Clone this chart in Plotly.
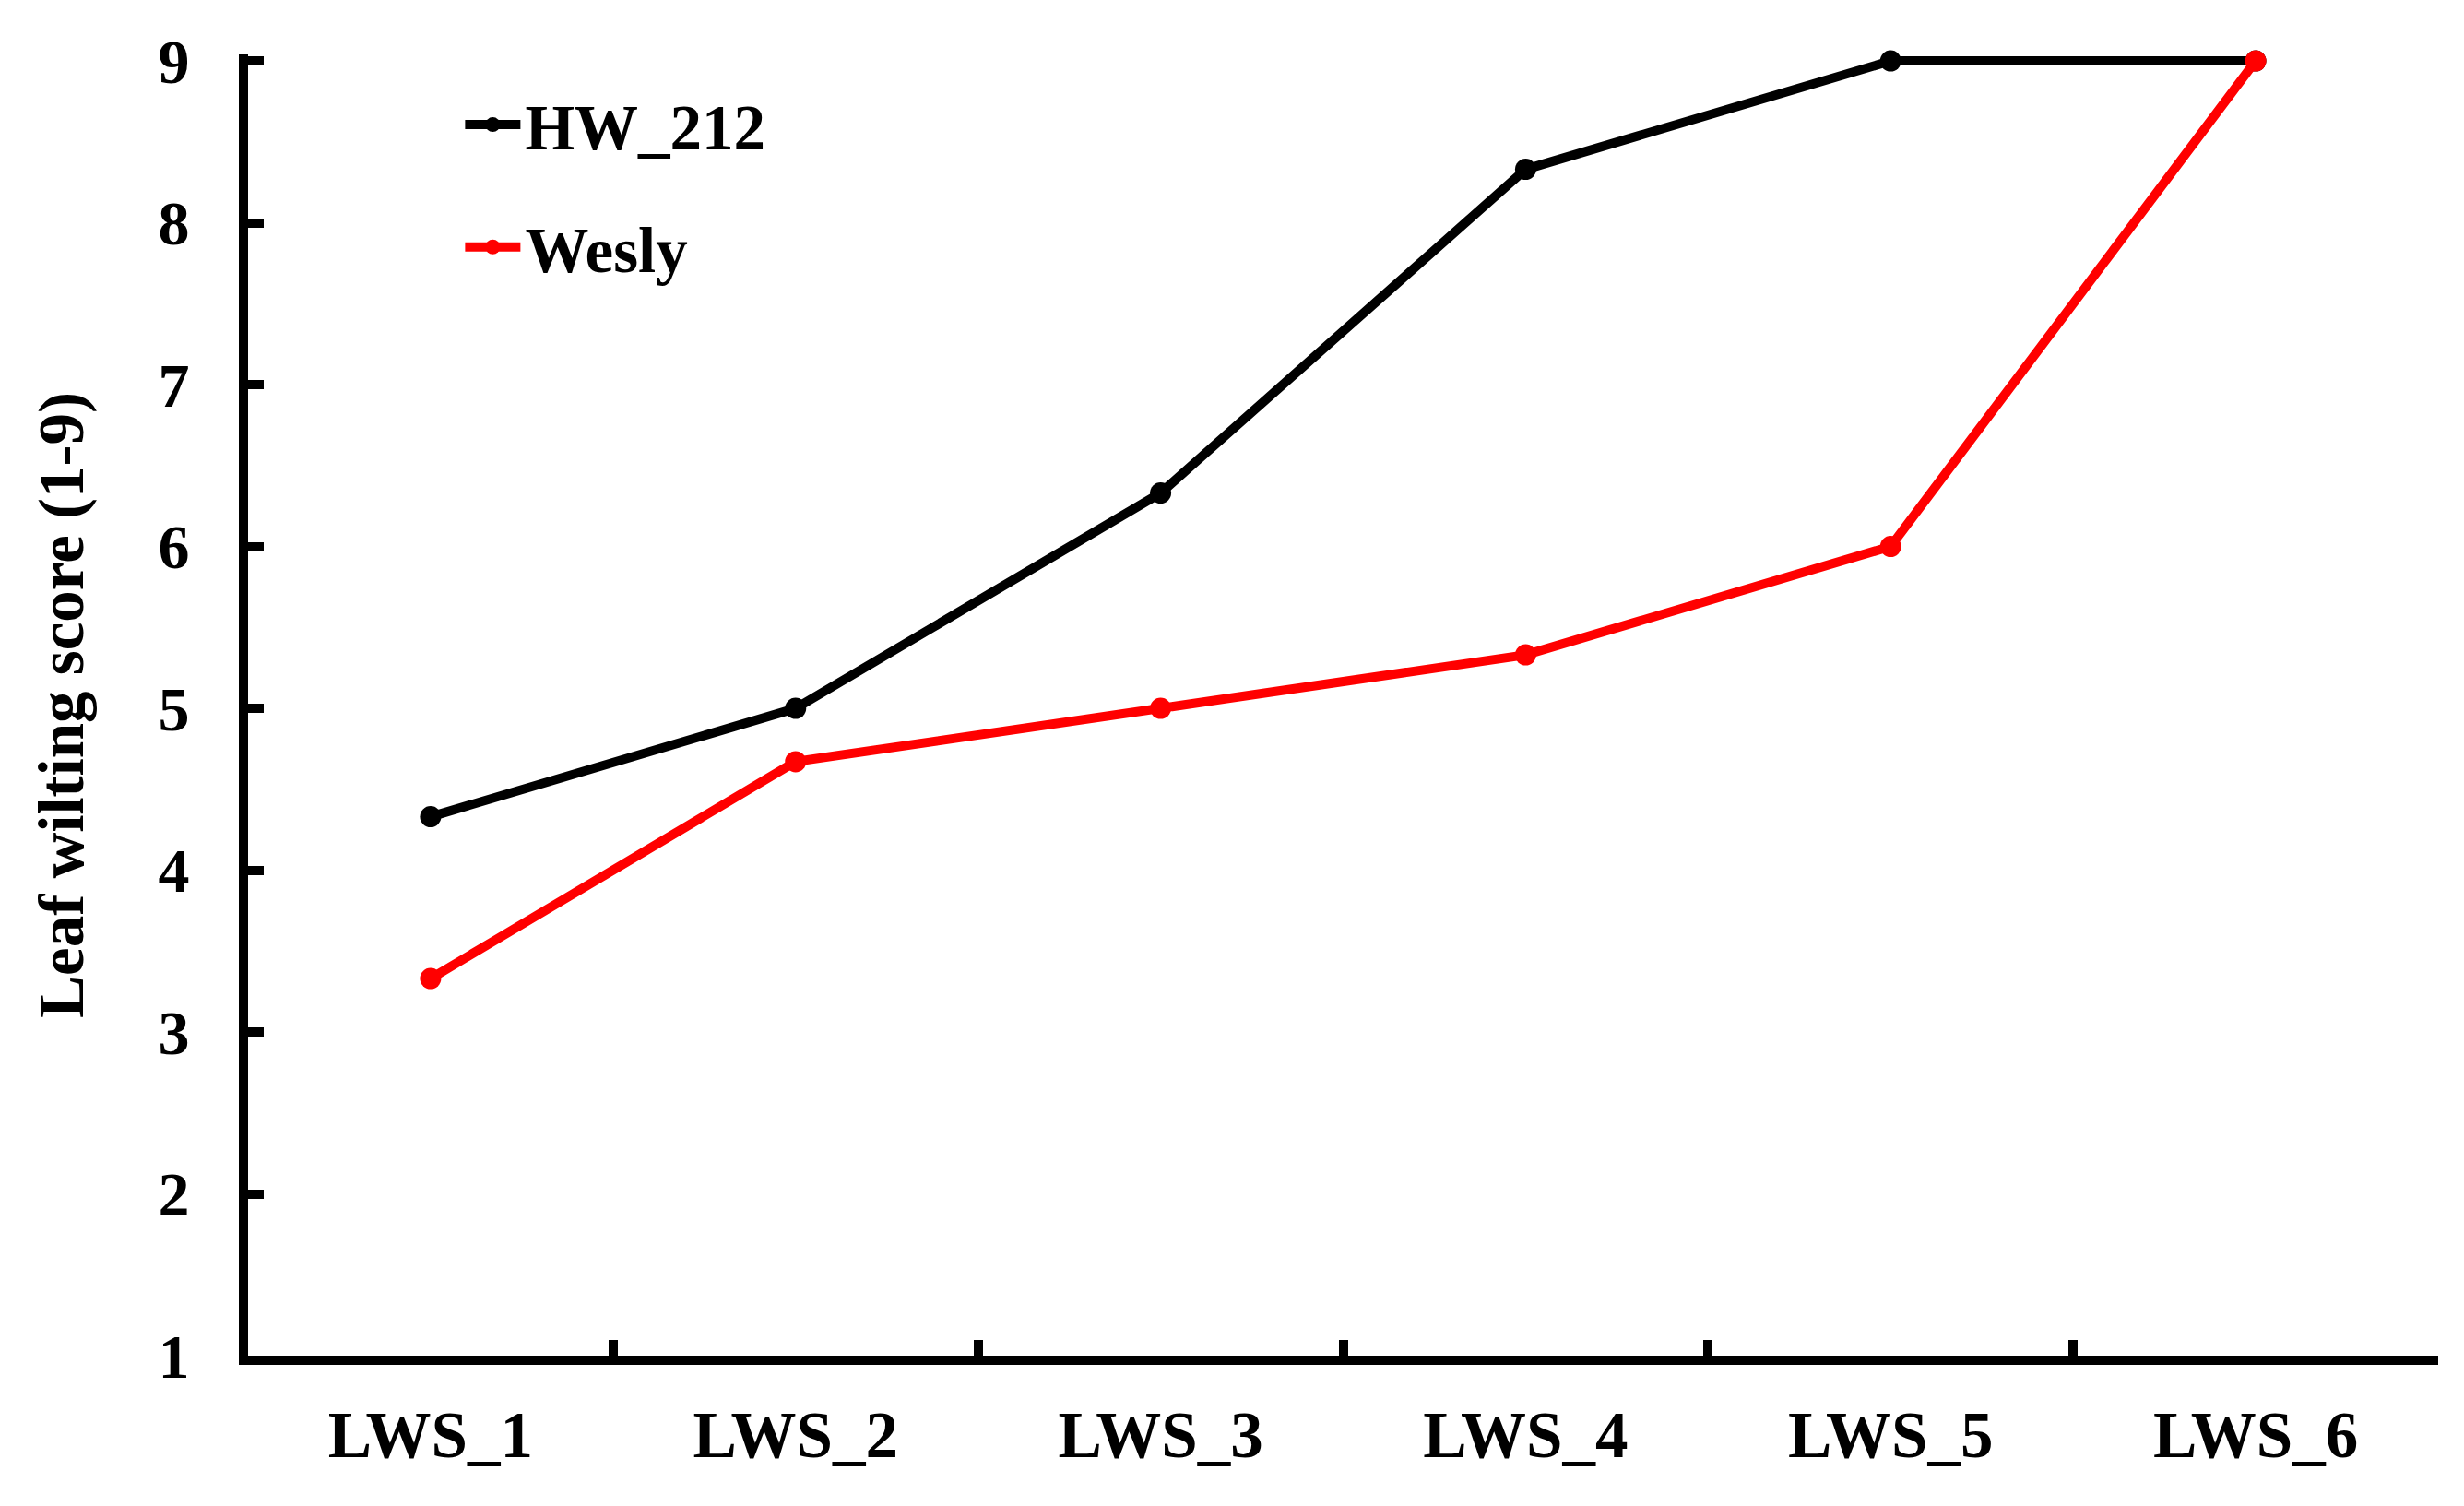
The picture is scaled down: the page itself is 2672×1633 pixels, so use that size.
import plotly.graph_objects as go

categories = ["LWS_1", "LWS_2", "LWS_3", "LWS_4", "LWS_5", "LWS_6"]
hw_212 = [4.33, 5.0, 6.33, 8.33, 9.0, 9.0]
wesly = [3.33, 4.67, 5.0, 5.33, 6.0, 9.0]
y_ticks = [1, 2, 3, 4, 5, 6, 7, 8, 9]

FONT = "Liberation Serif"

fig = go.Figure()
fig.add_trace(go.Scatter(
    x=categories, y=hw_212, name="<b>HW_212</b>", mode="lines+markers",
    line=dict(color="#000000", width=10), marker=dict(color="#000000", size=23),
    cliponaxis=False, legendgroup="a"))
fig.add_trace(go.Scatter(
    x=categories, y=wesly, name="<b>Wesly</b>", mode="lines+markers",
    line=dict(color="#FF0000", width=10), marker=dict(color="#FF0000", size=23),
    cliponaxis=False, legendgroup="b"))

fig.update_layout(
    width=2672, height=1633,
    margin=dict(l=261, r=36, t=51, b=171),
    paper_bgcolor="white", plot_bgcolor="white",
    font=dict(family=FONT, size=68, color="black"),
    showlegend=True,
    legend=dict(x=0.097, y=0.9825, xanchor="left", yanchor="top",
                bgcolor="rgba(0,0,0,0)", traceorder="grouped",
                tracegroupgap=40, itemwidth=60,
                font=dict(family=FONT, size=69, color="black")),
)
fig.update_xaxes(
    type="category", categoryorder="array", categoryarray=categories,
    range=[-0.5, 5.5], showgrid=False, zeroline=False,
    showline=True, linecolor="black", linewidth=10,
    ticks="inside", tickson="boundaries", ticklen=17, tickwidth=10, tickcolor="black",
    tickfont=dict(family=FONT, size=71, color="black", weight="bold"),
    ticklabelstandoff=15,
)
fig.update_yaxes(
    range=[1, 9.04], tickvals=y_ticks, showgrid=False, zeroline=False,
    showline=True, linecolor="black", linewidth=10,
    ticks="inside", ticklen=17, tickwidth=10, tickcolor="black",
    tickfont=dict(family=FONT, size=68, color="black", weight="bold"),
    ticklabelstandoff=40,
    title=dict(text="<b>Leaf wilting score (1-9)</b>", font=dict(family=FONT, size=69, color="black"),
               standoff=62),
)

fig.write_html("out.html")
